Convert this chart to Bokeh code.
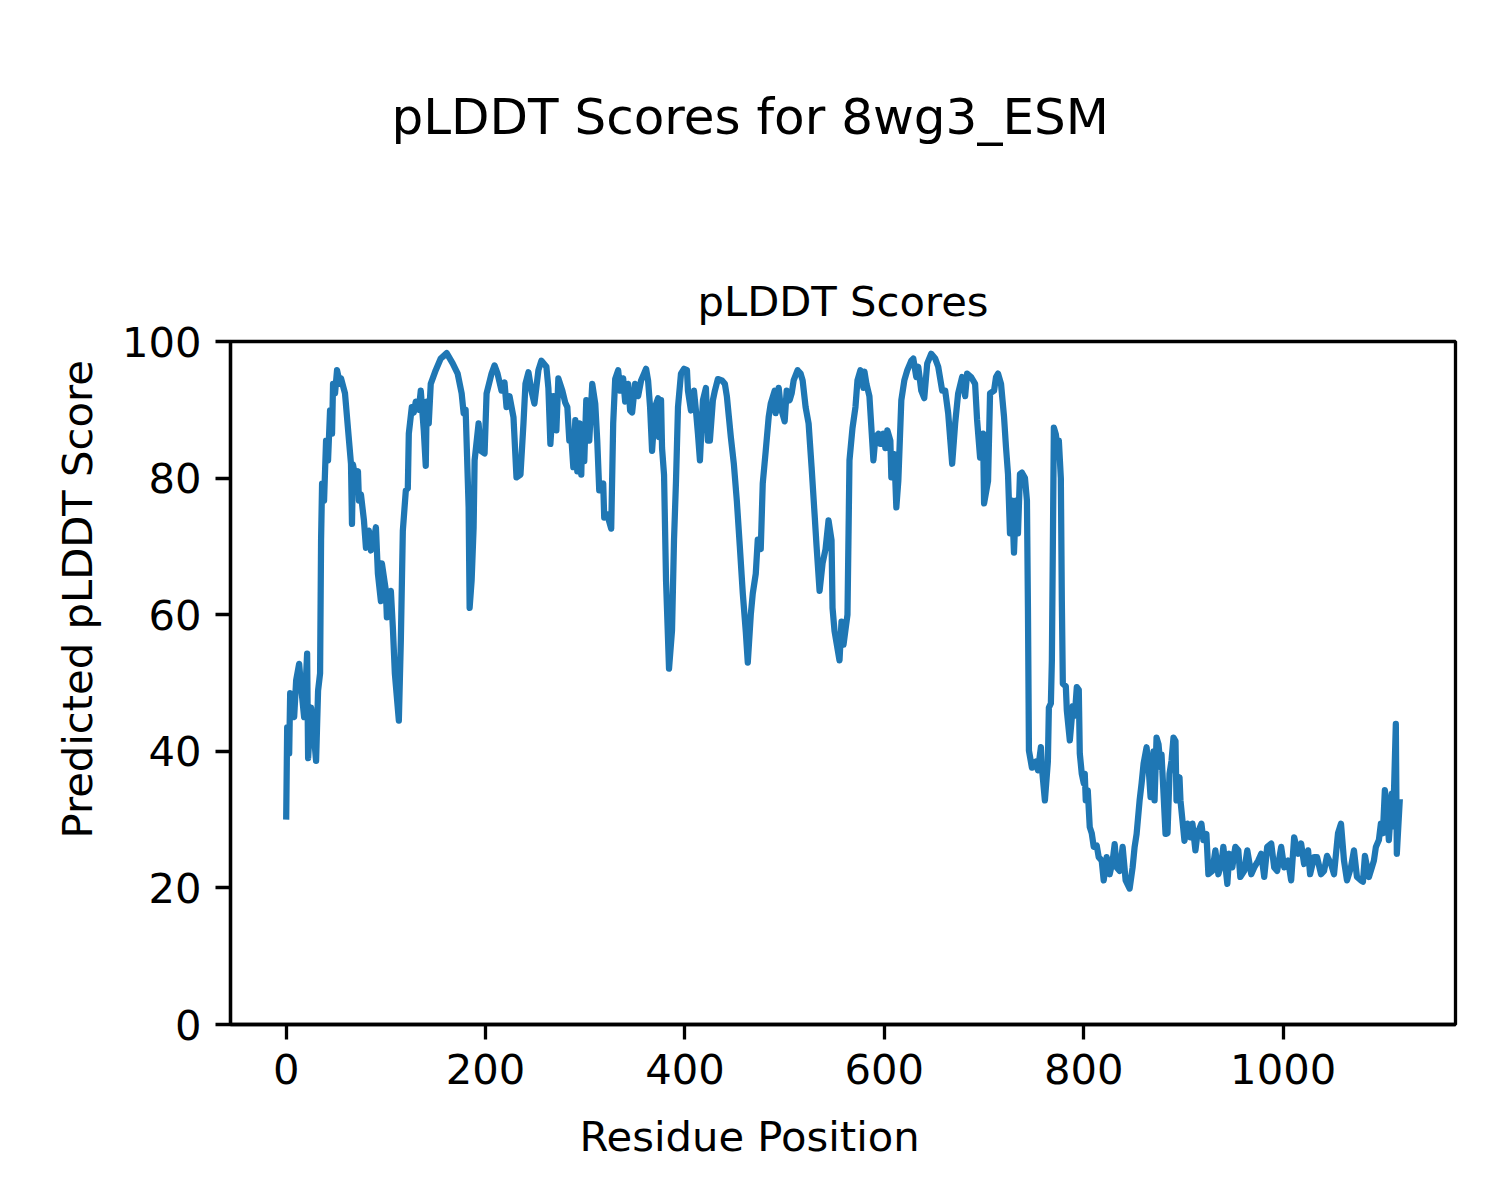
from bokeh.plotting import figure
from bokeh.models import Title, FixedTicker
from bokeh.embed import file_html
from bokeh.resources import INLINE

residue = [0, 1, 3, 4, 6, 8, 10, 13, 15, 18, 21, 22, 25, 28, 30, 32, 34, 35, 36, 38,
           40, 42, 44, 46, 47, 49, 51, 54, 55, 59, 63, 65, 66, 67, 70, 72, 73, 75, 78, 80,
           83, 85, 88, 90, 92, 95, 96, 100, 101, 105, 107, 109, 113, 115, 117, 120, 122, 123, 126, 128,
           130, 133, 135, 138, 140, 141, 143, 145, 150, 155, 161, 167, 172, 176, 178, 180, 183, 184, 186, 188,
           189, 193, 195, 199, 201, 206, 209, 212, 216, 219, 221, 224, 228, 231, 235, 238, 240, 243, 246, 249,
           253, 256, 261, 263, 265, 268, 271, 273, 277, 280, 282, 284, 286, 288, 290, 292, 294, 296, 297, 299,
           301, 304, 307, 310, 312, 314, 318, 319, 322, 326, 328, 330, 333, 335, 338, 340, 343, 345, 347, 350,
           353, 356, 359, 361, 363, 365, 367, 370, 373, 374, 376, 377, 379, 381, 384, 387, 389, 391, 393, 396,
           399, 402, 403, 406, 409, 411, 413, 415, 418, 421, 423, 425, 428, 430, 433, 437, 440, 442, 444, 446,
           449, 452, 455, 458, 461, 463, 466, 468, 471, 473, 476, 478, 481, 484, 486, 490, 491, 494, 496, 500,
           502, 505, 507, 509, 513, 516, 518, 521, 524, 527, 530, 532, 535, 538, 541, 544, 547, 548, 550, 555,
           557, 559, 563, 565, 568, 571, 573, 576, 579, 580, 582, 585, 589, 591, 594, 596, 599, 601, 603, 606,
           607, 610, 612, 614, 617, 620, 623, 627, 629, 632, 634, 637, 640, 643, 647, 651, 654, 658, 661, 664,
           668, 671, 674, 678, 681, 683, 687, 691, 693, 696, 699, 700, 704, 706, 710, 712, 714, 717, 720, 722,
           724, 726, 728, 730, 732, 734, 736, 738, 741, 743, 744, 745, 748, 752, 754, 757, 758, 761, 764, 765,
           767, 768, 770, 772, 774, 775, 777, 778, 779, 782, 783, 786, 789, 791, 793, 795, 796, 798, 800, 801,
           802, 804, 806, 808, 810, 813, 815, 818, 820, 823, 826, 829, 831, 833, 836, 839, 842, 846, 849, 851,
           853, 856, 858, 860, 863, 865, 867, 870, 871, 873, 875, 877, 878, 880, 882, 884, 886, 888, 890, 892,
           893, 896, 897, 901, 904, 907, 909, 912, 914, 918, 920, 923, 925, 929, 932, 935, 938, 940, 944, 946,
           949, 952, 955, 957, 961, 964, 968, 971, 975, 978, 981, 984, 988, 991, 994, 998, 1001, 1005, 1008, 1011,
           1015, 1018, 1021, 1025, 1027, 1031, 1034, 1038, 1041, 1044, 1048, 1051, 1055, 1058, 1061, 1064, 1068, 1071, 1074, 1078,
           1080, 1082, 1086, 1089, 1091, 1093, 1096, 1098, 1100, 1102, 1104, 1106, 1108, 1109, 1110, 1111, 1113, 1114, 1117]

plddt = [30, 43.5, 39.7, 48.5, 47, 45, 50.4, 52.8, 49.4, 45, 54.3, 39, 46.4, 42, 38.6, 48.9, 51.4, 70.9, 79.2, 76.7,
         85.5, 82.6, 89.9, 86.5, 93.8, 92.4, 95.8, 93.8, 94.6, 92.4, 85.5, 82.1, 73.3, 82, 79.6, 81, 76.7, 77.6, 73.8, 69.8,
         72.3, 69.4, 71, 72.8, 66, 62, 67.5, 63.5, 59.6, 63.5, 58.1, 51.4, 44.5, 56.2, 72.3, 78.2, 78.5, 86.5, 90.4, 89.6,
         91.2, 90, 92.8, 87, 81.8, 91.2, 88, 93.8, 95.8, 97.5, 98.3, 96.8, 95.3, 92.4, 89.5, 90, 75.7, 61, 65, 72.8,
         82.6, 88, 84, 83.6, 92.4, 95.3, 96.5, 95.3, 92.8, 94, 90.4, 92, 88.9, 80.1, 80.5, 88, 93.8, 95.5, 92.8, 90.9,
         95.8, 97.2, 96.3, 93.2, 85, 92, 87, 94.6, 92.8, 91, 90.4, 85.5, 86, 81.6, 88.5, 81, 88, 80.5, 87.8, 82.5,
         91.4, 85.5, 93.8, 90.9, 85.5, 78.2, 79.2, 74.2, 74.7, 72.6, 88, 94.5, 95.8, 92.8, 94.6, 91.2, 93.8, 89.9, 89.6, 93.8,
         92, 94.3, 95.3, 96, 94.3, 90.4, 84, 90.4, 91.7, 86, 91.4, 84.4, 80.5, 65, 52.1, 57.7, 70.9, 79.6, 90.4, 95.3,
         96, 95.8, 92.8, 89.9, 92.8, 89.9, 86.5, 82.6, 91.4, 93.2, 85.5, 85.5, 91.4, 92.8, 94.5, 94.3, 93.8, 92, 89, 86,
         82.1, 76.7, 70, 63.1, 57.5, 53, 60, 63.1, 66, 71, 69.6, 79.2, 84, 89, 90.9, 92.8, 89.5, 93.2, 90.4, 88.3,
         92.8, 91.4, 92.4, 94.3, 95.8, 95.3, 94.3, 90.4, 88, 81.6, 74.7, 70, 63.5, 67.5, 69.6, 73.8, 70.9, 61, 57.6, 53.3,
         59, 55.6, 60, 82.6, 87.3, 90.4, 94.3, 95.8, 93.2, 95.6, 93.8, 92, 82.6, 86, 86.5, 85, 86.5, 84.4, 87, 85.5,
         80.1, 83.5, 75.7, 79.6, 91.4, 94.3, 95.8, 97.2, 97.5, 94.8, 96.3, 92.8, 91.7, 96.8, 98.2, 97.5, 96.3, 92.8, 92.8, 89.5,
         82.1, 88, 92.4, 94.8, 92, 95.3, 94.8, 93.8, 88.5, 83, 86.5, 76.3, 79.6, 92.4, 92.8, 94.8, 95.3, 93.8, 89, 84.5,
         80.6, 71.9, 76.7, 69.1, 76.7, 71.9, 80.6, 80.8, 80, 76.7, 61, 40.1, 37.6, 38.5, 37.2, 40.6, 37.6, 32.8, 38.5, 46.4,
         47, 53.3, 87.4, 86.4, 84, 85.5, 80, 62, 49.9, 49.5, 46, 41.6, 46.6, 45.2, 49.4, 49, 39.7, 36.7, 35.3, 36.7,
         32.8, 34.3, 28.9, 28, 26, 26.2, 24.5, 24, 21.1, 24.5, 22, 24, 26.4, 23, 22.5, 26, 21.1, 19.9, 23, 26,
         27.9, 32.8, 35.3, 38.2, 40.6, 37.7, 33.3, 40, 32.8, 42, 41, 37.7, 39.5, 33.8, 27.9, 28, 36.7, 38.6, 42, 41.5,
         32.8, 36.2, 32.8, 26.9, 29.4, 27.4, 29.4, 25.5, 27.9, 29.4, 27, 27.9, 22, 22.5, 25.5, 22, 23.5, 26, 20.6, 25,
         23, 26, 25.5, 21.6, 22.5, 25.5, 22, 23, 24, 25, 21.6, 26, 26.5, 23, 22.5, 26, 23, 24, 21.1, 27.4,
         25, 26.5, 23.5, 25.5, 22, 24.5, 24.5, 22, 22.5, 24.7, 23.5, 22, 28, 29.4, 24, 21.1, 23, 25.5, 21.6, 21.1,
         20.9, 24.7, 21.6, 23, 24, 26, 27, 29.4, 28, 34.3, 31.9, 27, 31.4, 33.8, 29, 33.3, 44, 25, 33]

x_ticks = [0, 200, 400, 600, 800, 1000]
y_ticks = [0, 20, 40, 60, 80, 100]

main_title = "pLDDT Scores for 8wg3_ESM"
sub_title = "pLDDT Scores"
x_label = "Residue Position"
y_label = "Predicted pLDDT Score"

FONT = "DejaVu Sans"
n_last = residue[-1]
pad = 0.05 * n_last

p = figure(width=1484, height=1184, output_backend="svg", toolbar_location=None,
           x_range=(-pad, n_last + pad), y_range=(0, 100),
           min_border_left=230, min_border_right=29, min_border_top=341, min_border_bottom=160)
p.title = None
p.background_fill_color = "white"
p.border_fill_color = "white"
p.outline_line_color = "black"
p.outline_line_width = 3.3
p.xgrid.visible = False
p.ygrid.visible = False

p.line(residue, plddt, line_color="#1f77b4", line_width=6.25, line_join="round")

for ax, ticks in ((p.xaxis[0], x_ticks), (p.yaxis[0], y_ticks)):
    ax.ticker = FixedTicker(ticks=ticks)
    ax.minor_tick_line_color = None
    ax.major_tick_in = 0
    ax.major_tick_out = 15
    ax.major_tick_line_width = 3.3
    ax.major_tick_line_color = "black"
    ax.axis_line_color = "black"
    ax.axis_line_width = 3.3
    ax.major_label_text_font = FONT
    ax.major_label_text_font_size = "41.7px"
    ax.major_label_text_color = "black"
    ax.major_label_standoff = 14

sub = Title(text=sub_title, text_font=FONT, text_font_size="41.7px", text_font_style="normal",
            align="center", standoff=31, text_color="black")
p.add_layout(sub, "above")
mt = Title(text=main_title, text_font=FONT, text_font_size="50px", text_font_style="normal",
           align="left", offset=161, standoff=10, text_color="black",
           padding=dict(top=71, right=0, bottom=109, left=0))
p.add_layout(mt, "above")

xl = Title(text=x_label, text_font=FONT, text_font_size="41.7px", text_font_style="normal",
           align="left", offset=349, standoff=47, text_color="black")
p.add_layout(xl, "below")
yl = Title(text=y_label, text_font=FONT, text_font_size="41.7px", text_font_style="normal",
           align="left", offset=186, standoff=33, text_color="black")
p.add_layout(yl, "left")

open("out.html", "w").write(file_html(p, INLINE))
